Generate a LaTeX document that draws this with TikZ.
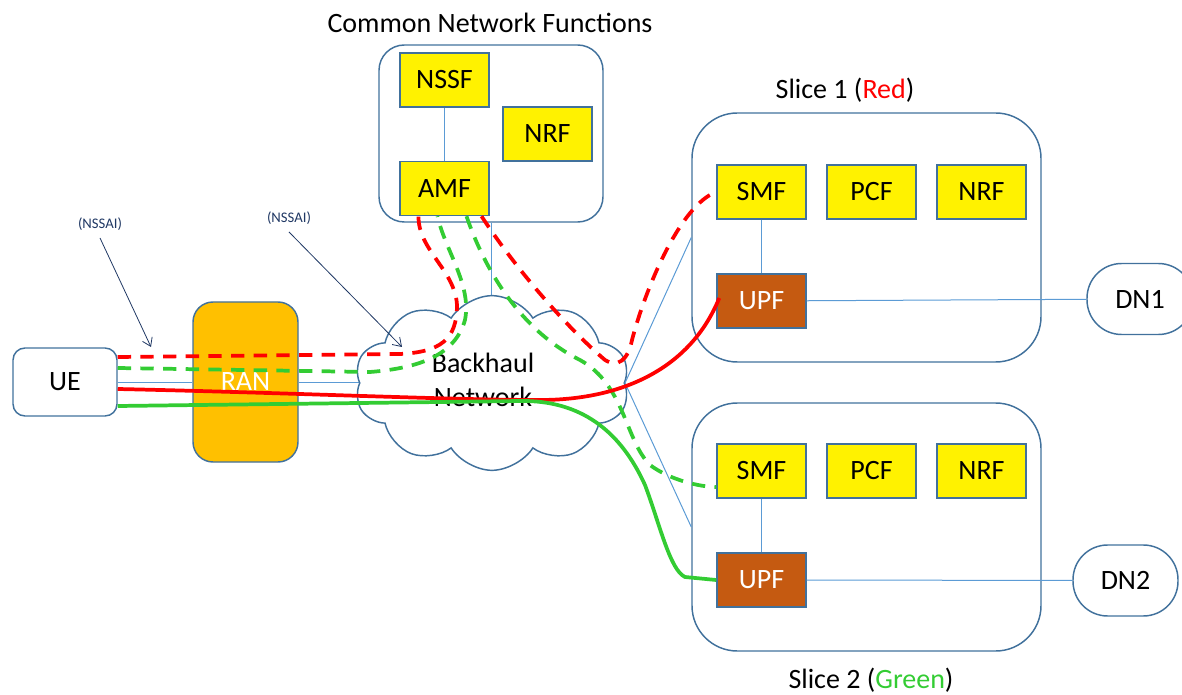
\documentclass[tikz,border=0pt]{standalone}
\usepackage{fontspec}
\setmainfont{Carlito}
\usetikzlibrary{shapes.symbols,calc,arrows.meta}
\definecolor{bordc}{RGB}{65,113,156}
\definecolor{linec}{RGB}{91,155,213}
\definecolor{upfc}{RGB}{197,90,17}
\definecolor{ranc}{RGB}{255,192,0}
\definecolor{redc}{RGB}{255,0,0}
\definecolor{greenc}{RGB}{51,204,51}
\definecolor{navyc}{RGB}{32,56,100}
\begin{document}
\begin{tikzpicture}[x=0.75pt,y=-0.75pt,
  font=\fontsize{21}{25}\selectfont,
  nf/.style={draw=bordc, line width=1.1pt, fill=yellow, minimum width=66.75pt, minimum height=40.5pt, inner sep=0pt},
  upfbox/.style={nf, fill=upfc, text=white},
  grp/.style={draw=bordc, line width=1.1pt, inner sep=0pt},
  thin/.style={draw=linec, line width=0.75pt},
  reddash/.style={draw=redc, line width=2.8pt, dash pattern=on 10pt off 7pt},
  greendash/.style={draw=greenc, line width=2.8pt, dash pattern=on 10pt off 7pt},
  redsolid/.style={draw=redc, line width=2.8pt},
  greensolid/.style={draw=greenc, line width=2.8pt},
  nssai/.style={text=navyc, font=\fontsize{11}{13}\selectfont, inner sep=1pt},
  nsarrow/.style={draw=navyc, line width=0.6pt, -{Straight Barb[length=6pt,width=8pt]}}
]
\useasboundingbox (0,0) rectangle (1182,695);

% titles
\node (tcnf) at (490,23) {Common Network Functions};
\node (ts1) at (845,90) {Slice 1 (\textcolor{redc}{Red})};
\node (ts2) at (871,680) {Slice 2 (\textcolor{greenc}{Green})};

% group boxes
\node[grp, rounded corners=19pt, minimum width=168pt, minimum height=132.75pt] (cnf) at (491,133.5) {};
\node[grp, rounded corners=34pt, minimum width=261.75pt, minimum height=186.75pt] (s1) at (866.5,237.5) {};
\node[grp, rounded corners=34pt, minimum width=261.75pt, minimum height=186pt] (s2) at (866.5,527) {};

% network functions
\node[nf] (nssf) at (444.5,80) {NSSF};
\node[nf] (nrf0) at (547.5,134) {NRF};
\node[nf] (amf) at (444.5,188.5) {AMF};
\node[nf] (smf1) at (761.5,192) {SMF};
\node[nf] (pcf1) at (871.5,192) {PCF};
\node[nf] (nrf1) at (981.5,192) {NRF};
\node[upfbox] (upf1) at (761.5,301) {UPF};
\node[nf] (smf2) at (761.5,471) {SMF};
\node[nf] (pcf2) at (871.5,471) {PCF};
\node[nf] (nrf2) at (981.5,471) {NRF};
\node[upfbox] (upf2) at (761.5,580) {UPF};

% UE, RAN, DN
\node[grp, rounded corners=9pt, minimum width=78pt, minimum height=51pt] (ue) at (65,382) {UE};
\node[grp, rounded corners=15pt, fill=ranc, minimum width=78.75pt, minimum height=120pt, text=white] (ran) at (245.5,382) {RAN};
\node[grp, rounded corners=26pt, minimum width=79.5pt, minimum height=53.25pt] (dn1) at (1140,299) {DN1};
\node[grp, rounded corners=26pt, minimum width=78.75pt, minimum height=53.25pt] (dn2) at (1125.5,580.5) {DN2};

% thin blue links
\draw[thin] (nssf) -- (amf);
\draw[thin] (smf1) -- (upf1);
\draw[thin] (smf2) -- (upf2);
\draw[thin] (upf1) -- (dn1);
\draw[thin] (upf2) -- (dn2);
\draw[thin] (ue) -- (ran);
\draw[thin] (ran.east) -- (492,382);
\draw[thin] (cnf.south) -- (491,383);

% cloud
\node[cloud, cloud puffs=10, cloud puff arc=115, draw=bordc, line width=1.1pt, fill=white,
      minimum width=206pt, minimum height=131pt, inner sep=0pt] (cloud) at (492,383) {};
\draw[thin] (cloud.east) -- (s1.west);
\draw[thin] (cloud.east) -- (s2.west);
\node[align=center, font=\fontsize{21}{25.5}\selectfont] (bh) at (483,380) {Backhaul\\Network};

% coloured flows
\draw[reddash] ($(ue.east)+(0,-25)$) -- (400,354)
   .. controls (440,352) and (457,340) .. (457,305)
   .. controls (455,270) and (418,250) .. ($(amf.south)+(-26,0)$);
\draw[greendash] ($(ue.east)+(0,-14)$) -- (370,372)
   .. controls (420,368) and (455,355) .. (465,320)
   .. controls (472,285) and (445,250) .. ($(amf.south)+(-7,0)$);
\draw[greendash] ($(amf.south)+(22,0)$)
   .. controls (485,270) and (520,330) .. (580,360)
   .. controls (625,385) and (625,440) .. (650,465)
   .. controls (670,480) and (700,487) .. ($(smf2.west)+(0,16)$);
\draw[reddash] ($(amf.south)+(37,0)$)
   .. controls (520,275) and (570,330) .. (605,360)
   .. controls (618,368) and (628,360) .. (632,340)
   .. controls (645,290) and (680,205) .. (smf1.west);
\draw[redsolid] ($(ue.east)+(0,7)$)
   .. controls (300,393) and (450,400) .. (540,400)
   .. controls (620,400) and (690,370) .. ($(upf1.west)+(3,-3)$);
\draw[greensolid] ($(ue.east)+(0,24)$) -- (520,401)
   .. controls (580,400) and (620,430) .. (645,485)
   .. controls (660,525) and (670,570) .. (685,577) -- (upf2.west);

% NSSAI annotations
\node[nssai] (ns1) at (100,224) {(NSSAI)};
\node[nssai] (ns2) at (289,218) {(NSSAI)};
\coordinate (a1) at (151,347);
\coordinate (a2) at (402,347);
\draw[nsarrow] ($(ns1.south)+(0,6)$) -- (a1);
\draw[nsarrow] ($(ns2.south)+(0,6)$) -- (a2);
\end{tikzpicture}
\end{document}
